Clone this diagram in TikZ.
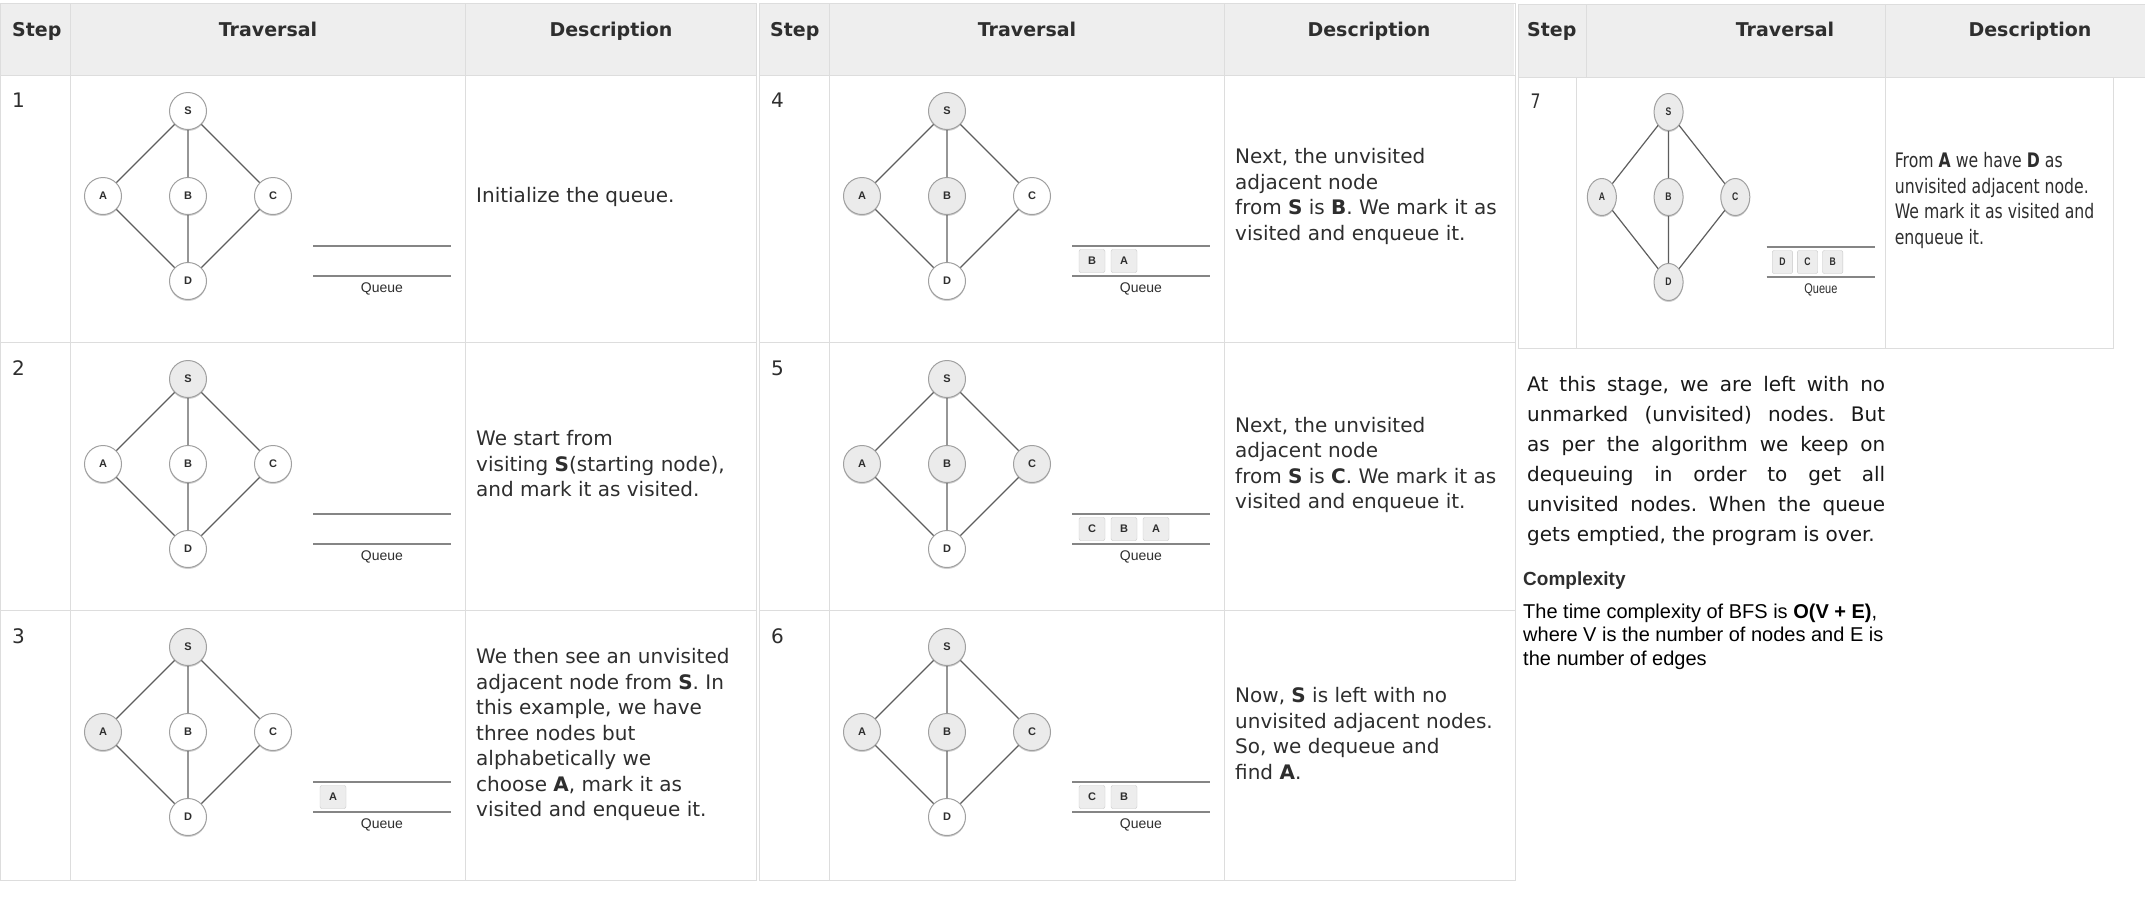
\documentclass[tikz,border=0pt]{standalone}
\usepackage{fontspec}
\setmainfont{DejaVu Sans}
\newfontfamily\arialfont{Liberation Sans}
\usetikzlibrary{shadows}
\frenchspacing

\definecolor{gridgray}{HTML}{DDDDDD}
\definecolor{headgray}{HTML}{EEEEEE}
\definecolor{inkgray}{HTML}{2E2E2E}
\definecolor{linkgray}{HTML}{5E5E5E}
\definecolor{ringgray}{HTML}{A0A0A0}
\definecolor{seengray}{HTML}{EBEBEB}
\definecolor{qgray}{HTML}{858585}
\definecolor{qfill}{HTML}{EDEDED}
\definecolor{qedge}{HTML}{C8C8C8}

\tikzset{
  vertex/.style={circle, draw=ringgray, line width=1pt, minimum size=37pt, inner sep=0pt,
    font=\arialfont\bfseries\fontsize{11}{13}\selectfont, text=inkgray,
    drop shadow={shadow xshift=0pt, shadow yshift=-1.5pt, opacity=0.3, fill=black!60}},
  link/.style={draw=linkgray, line width=1.2pt},
  qline/.style={draw=qgray, line width=2pt},
  qbox/.style={draw=qedge, fill=qfill, rounded corners=2pt, minimum width=26pt, minimum height=23pt,
    inner sep=0pt, font=\arialfont\bfseries\fontsize{11}{13}\selectfont, text=inkgray},
  qlabel/.style={font=\arialfont\fontsize{14}{16}\selectfont, text=inkgray},
  gridline/.style={draw=gridgray, line width=1pt},
  head/.style={anchor=base, inner sep=0pt, font=\bfseries\fontsize{19}{23}\selectfont, text=inkgray},
  headl/.style={head, anchor=base west},
  num/.style={anchor=base west, inner sep=0pt, font=\fontsize{20}{25}\selectfont, text=inkgray},
  desc/.style={anchor=west, align=left, inner sep=0pt, font=\fontsize{20}{25.5}\selectfont, text=inkgray},
  para/.style={anchor=north west, text width=358pt, align=justify, inner sep=0pt,
    font=\fontsize{20}{30}\selectfont, text=black!90}
}

\begin{document}
\begin{tikzpicture}[x=1pt, y=-1pt, node distance=85pt]
\useasboundingbox (0,0) rectangle (2145,903);
\fill[white] (0,0) rectangle (2145,903);

% header rows
\fill[headgray] (0,3) rectangle (756,75);
\fill[headgray] (759,4) rectangle (1514,76);
\fill[headgray] (1518,4) rectangle (2145,77);

% table grids
\foreach \x in {0,759} {
  \draw[gridline] (\x+0.5,3) rectangle (\x+756,880);
  \foreach \y in {75,342,610} \draw[gridline] (\x+0.5,\y) -- (\x+756,\y);
  \foreach \c in {70,465} \draw[gridline] (\x+\c,3) -- (\x+\c,880);
}
\draw[gridline] (1518,4) -- (2145,4) (1518,77) -- (2145,77) (1586,4) -- (1586,77)
  (1518,4) -- (1518,348) -- (2113,348) -- (2113,77) (1576,77) -- (1576,348) (1885,4) -- (1885,348);

\node[headl] (h1s) at (12,36) {Step};
\node[head] (h1t) at (268,36) {Traversal};
\node[head] (h1d) at (611,36) {Description};
\node[headl] (h2s) at (770,36) {Step};
\node[head] (h2t) at (1027,36) {Traversal};
\node[head] (h2d) at (1369,36) {Description};
\node[headl] (h3s) at (1527,36) {Step};
\node[head] (h3t) at (1785,36) {Traversal};
\node[head] (h3d) at (2030,36) {Description};

% one graph per step
\foreach \n/\dx/\ry/\xs/\fS/\fA/\fB/\fC/\fD in {
    1/0/75/1/white/white/white/white/white,
    2/0/343/1/seengray/white/white/white/white,
    3/0/611/1/seengray/seengray/white/white/white,
    4/759/75/1/seengray/seengray/seengray/white/white,
    5/759/343/1/seengray/seengray/seengray/seengray/white,
    6/759/611/1/seengray/seengray/seengray/seengray/white,
    7/1521/76/0.785/seengray/seengray/seengray/seengray/seengray} {
  \begin{scope}[shift={(\dx,\ry)}, xscale=\xs, transform shape]
    \node[vertex, fill=\fS] (S\n) at (188,36) {S};
    \node[vertex, fill=\fB] (B\n) [below of=S\n] {B};
    \node[vertex, fill=\fA] (A\n) [left of=B\n] {A};
    \node[vertex, fill=\fC] (C\n) [right of=B\n] {C};
    \node[vertex, fill=\fD] (D\n) [below of=B\n] {D};
    \draw[link] (S\n) -- (A\n) (S\n) -- (B\n) (S\n) -- (C\n)
      (A\n) -- (D\n) (B\n) -- (D\n) (C\n) -- (D\n);
    \draw[qline] (313,171) -- (451,171) (313,201) -- (451,201);
    \node[qlabel] (Q\n) at (382,214) {Queue};
    \node[num] (N\n) at (12,32) {\n};
  \end{scope}
}

% queue contents
\begin{scope}[node distance=32pt]
  \node[qbox] (q3a) at (333,797) {A};
  \node[qbox] (q4b) at (1092,261) {B};
  \node[qbox] (q4a) [right of=q4b] {A};
  \node[qbox] (q5c) at (1092,529) {C};
  \node[qbox] (q5b) [right of=q5c] {B};
  \node[qbox] (q5a) [right of=q5b] {A};
  \node[qbox] (q6c) at (1092,797) {C};
  \node[qbox] (q6b) [right of=q6c] {B};
\end{scope}

\node[desc] (d1) at (476,197) {Initialize the queue.};
\node[desc] (d2) at (476,464) {We start from\\visiting \textbf{S}(starting node),\\and mark it as visited.};
\node[desc] (d3) at (476,734.5) {We then see an unvisited\\adjacent node from \textbf{S}. In\\this example, we have\\three nodes but\\alphabetically we\\choose \textbf{A}, mark it as\\visited and enqueue it.};
\node[desc] (d4) at (1235,196.5) {Next, the unvisited\\adjacent node\\from \textbf{S} is \textbf{B}. We mark it as\\visited and enqueue it.};
\node[desc] (d5) at (1235,465) {Next, the unvisited\\adjacent node\\from \textbf{S} is \textbf{C}. We mark it as\\visited and enqueue it.};
\node[desc] (d6) at (1235,733.5) {Now, \textbf{S} is left with no\\unvisited adjacent nodes.\\So, we dequeue and\\find \textbf{A}.};

% step 7 is squeezed sideways
\begin{scope}[shift={(1521,76)}, xscale=0.785, transform shape, node distance=32pt]
  \node[qbox] (q7d) at (333,186) {D};
  \node[qbox] (q7c) [right of=q7d] {C};
  \node[qbox] (q7b) [right of=q7c] {B};
  \node[desc] (d7) at (476,124.5) {From \textbf{A} we have \textbf{D} as\\unvisited adjacent node.\\We mark it as visited and\\enqueue it.};
\end{scope}

\node[para] (rest) at (1527,376) {\tolerance=10000 At this stage, we are left with no\linebreak
  unmarked (unvisited) nodes. But\linebreak as per the algorithm we keep on\linebreak
  dequeuing in order to get all\linebreak unvisited nodes. When the queue\linebreak
  gets emptied, the program is over.};
\node[anchor=base west, inner sep=0pt, font=\arialfont\bfseries\fontsize{19}{22}\selectfont, text=inkgray] (cx) at (1523,585) {Complexity};
\node[anchor=north west, align=left, inner sep=0pt, font=\arialfont\fontsize{20}{23.5}\selectfont] (cxt) at (1523,603.5)
  {The time complexity of BFS is \textbf{O(V + E)},\\where V is the number of nodes and E is\\the number of edges};
\end{tikzpicture}
\end{document}
